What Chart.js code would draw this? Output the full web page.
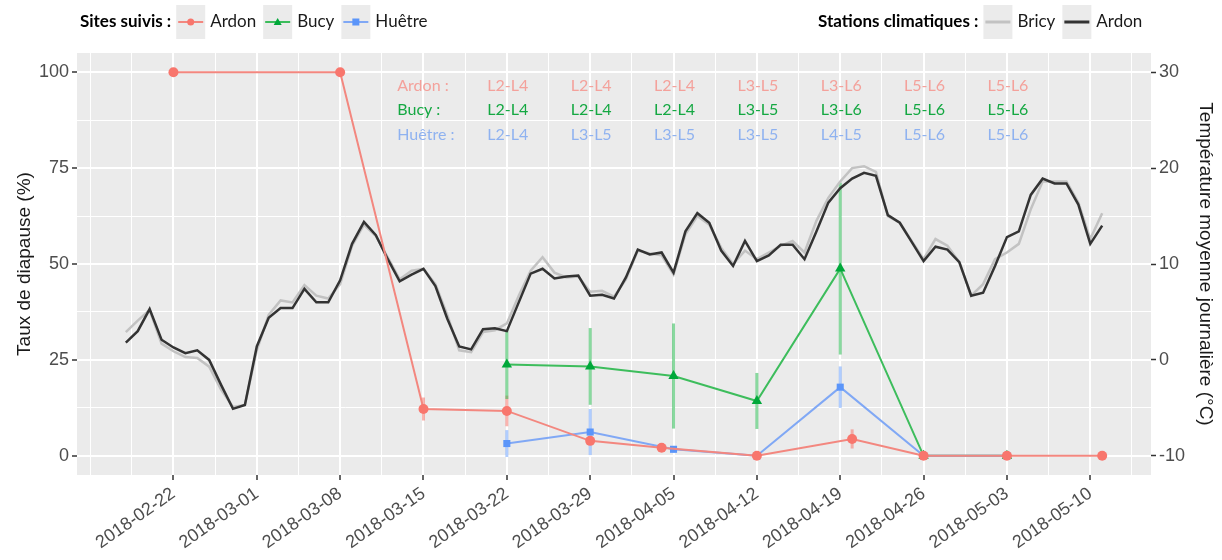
<!DOCTYPE html>
<html><head><meta charset="utf-8">
<script src="https://cdn.jsdelivr.net/npm/chart.js@4.4.1/dist/chart.umd.min.js"></script>
<style>html,body{margin:0;padding:0;background:#fff}#wrap{width:1222px;height:560px}</style>
</head><body><div id="wrap"><canvas id="c" width="1222" height="560"></canvas></div>
<script>
// ---------- DATA ----------
const tempStartDate = '2018-02-18';
const tempArdon = [1.8,3.0,5.3,2.1,1.3,0.7,1.0,0.0,-2.6,-5.1,-4.7,1.4,4.4,5.4,5.4,7.4,6.0,6.0,8.3,12.1,14.4,13.0,10.5,8.2,8.9,9.5,7.7,4.3,1.4,1.1,3.2,3.3,3.0,6.0,9.0,9.5,8.5,8.7,8.8,6.7,6.8,6.4,8.6,11.5,11.0,11.2,9.1,13.4,15.3,14.3,11.4,9.8,12.4,10.3,10.9,12.0,12.0,10.5,13.4,16.4,17.9,18.9,19.5,19.2,15.1,14.3,12.3,10.3,11.8,11.5,10.2,6.7,7.0,9.8,12.8,13.4,17.2,18.9,18.4,18.4,16.2,12.1,14.0];
const tempBricy = [2.9,4.1,5.2,1.7,0.9,0.3,0.2,-0.7,-3.1,-4.9,-4.7,1.0,4.7,6.2,6.0,7.8,6.7,6.4,7.9,11.9,14.1,12.9,10.7,8.4,9.3,9.5,7.9,4.7,1.0,0.8,2.9,3.1,3.8,6.7,9.3,10.7,9.1,8.6,8.7,7.1,7.2,6.6,8.4,11.4,11.1,10.9,8.9,13.1,15.0,14.1,11.7,10.0,11.4,10.5,11.2,11.9,12.4,11.2,14.5,16.9,18.6,20.0,20.2,19.6,15.0,14.3,12.4,10.5,12.6,11.9,10.2,6.7,7.9,10.5,11.2,12.1,15.7,18.6,18.6,18.6,16.4,12.6,15.3];

const ardonDates = ['2018-02-22','2018-03-08','2018-03-15','2018-03-22','2018-03-29','2018-04-04','2018-04-12','2018-04-20','2018-04-26','2018-05-03','2018-05-11'];
const ardonRate  = [100,100,12.2,11.7,3.9,2.1,0,4.4,0,0,0];
const ardonErr   = [0,0,3,4,0,0,0,2.5,0,0,0];

const bucyDates = ['2018-03-22','2018-03-29','2018-04-05','2018-04-12','2018-04-19','2018-04-26','2018-05-03'];
const bucyRate  = [23.8,23.3,20.8,14.3,48.8,0,0];
const bucyErr   = [9,10,13.7,7.3,22.4,0,0];

const huetreDates = ['2018-03-22','2018-03-29','2018-04-05','2018-04-12','2018-04-19','2018-04-26','2018-05-03'];
const huetreRate  = [3.2,6.2,1.7,0,17.9,0,0];
const huetreErr   = [3.5,6,0.8,0,5.4,0,0];

const xTickDates = ['2018-02-22','2018-03-01','2018-03-08','2018-03-15','2018-03-22','2018-03-29','2018-04-05','2018-04-12','2018-04-19','2018-04-26','2018-05-03','2018-05-10'];
const yLeftTicks  = [0,25,50,75,100];
const yRightTicks = [-10,0,10,20,30];

const stageDates   = ['2018-03-22','2018-03-29','2018-04-05','2018-04-12','2018-04-19','2018-04-26','2018-05-03'];
const stagesArdon  = ['L2-L4','L2-L4','L2-L4','L3-L5','L3-L6','L5-L6','L5-L6'];
const stagesBucy   = ['L2-L4','L2-L4','L2-L4','L3-L5','L3-L6','L5-L6','L5-L6'];
const stagesHuetre = ['L2-L4','L3-L5','L3-L5','L3-L5','L4-L5','L5-L6','L5-L6'];
const stageRowNames = ['Ardon :','Bucy :','Huêtre :'];

// ---------- HELPERS ----------
const ORIGIN = Date.parse(xTickDates[0] + 'T00:00:00Z');
const dayOf = s => (Date.parse(s + 'T00:00:00Z') - ORIGIN) / 86400000;
const tempStart = dayOf(tempStartDate);
const pts = (dates, vals) => dates.map((d, i) => ({x: dayOf(d), y: vals[i]}));
const tempPts = vals => vals.map((v, i) => ({x: tempStart + i, y: v}));

const xMajor = xTickDates.map(dayOf);
const step = xMajor[1] - xMajor[0];
const xAll = [];
for (let v = xMajor[0] - step; v <= xMajor[xMajor.length - 1] + step; v += step / 2) xAll.push(v);
const xDataMin = tempStart, xDataMax = tempStart + tempArdon.length - 1;
const xPad = (xDataMax - xDataMin) * 0.05;
const xMin = xDataMin - xPad, xMax = xDataMax + xPad;
const xTicks = xAll.filter(v => v >= xMin && v <= xMax);
const isXMajor = v => xMajor.some(m => Math.abs(m - v) < 1e-6);

const yAll = [];
for (let v = 0; v <= 100; v += 12.5) yAll.push(v);
const isYMajor = v => yLeftTicks.includes(v);

const C = {
  ardon: '#f8766d', ardonLine: '#f3877f', ardonErr: 'rgba(248,118,109,0.55)',
  bucy: '#00a83a', bucyLine: '#3dbd5c', bucyErr: 'rgba(40,185,80,0.55)',
  huetre: '#5b95f9', huetreLine: '#80a8f5', huetreErr: 'rgba(97,156,255,0.5)',
  tArdon: '#333333', tBricy: '#c2c2c2'
};

const FONT = 'Liberation Sans, Arial, sans-serif';
const LFONT = 'Lato, sans-serif';

// ---------- PLUGINS ----------
const panelBg = {
  id: 'panelBg',
  beforeDraw(chart) {
    const {ctx, chartArea: a} = chart;
    ctx.save(); ctx.fillStyle = '#ebebeb';
    ctx.fillRect(a.left, a.top, a.right - a.left, a.bottom - a.top);
    ctx.restore();
  }
};

const errorBars = {
  id: 'errorBars',
  beforeDatasetsDraw(chart) {
    const {ctx, scales: {x, y}} = chart;
    const series = [
      {dates: ardonDates, rate: ardonRate, err: ardonErr, col: C.ardonErr},
      {dates: bucyDates, rate: bucyRate, err: bucyErr, col: C.bucyErr},
      {dates: huetreDates, rate: huetreRate, err: huetreErr, col: C.huetreErr}
    ];
    ctx.save();
    ctx.lineWidth = 3;
    series.forEach(s => s.dates.forEach((d, i) => {
      if (!s.err[i]) return;
      const px = x.getPixelForValue(dayOf(d));
      ctx.strokeStyle = s.col;
      ctx.beginPath();
      ctx.moveTo(px, y.getPixelForValue(s.rate[i] - s.err[i]));
      ctx.lineTo(px, y.getPixelForValue(s.rate[i] + s.err[i]));
      ctx.stroke();
    }));
    ctx.restore();
  }
};

const stageLabels = {
  id: 'stageLabels',
  afterDraw(chart) {
    const {ctx, scales: {x, y}} = chart;
    const rows = [
      {name: stageRowNames[0], codes: stagesArdon, col: '#f4a19b', yv: 96.5},
      {name: stageRowNames[1], codes: stagesBucy, col: '#14a842', yv: 90.1},
      {name: stageRowNames[2], codes: stagesHuetre, col: '#8fb2f0', yv: 83.6}
    ];
    ctx.save();
    ctx.font = '16px ' + LFONT;
    ctx.textBaseline = 'middle';
    rows.forEach(r => {
      const py = y.getPixelForValue(r.yv);
      ctx.fillStyle = r.col;
      ctx.textAlign = 'left';
      ctx.fillText(r.name, x.getPixelForValue(18.8), py);
      ctx.textAlign = 'center';
      r.codes.forEach((c, i) => ctx.fillText(c, x.getPixelForValue(dayOf(stageDates[i])) + 1, py));
    });
    ctx.restore();
  }
};

function drawMarker(ctx, style, cx, cy, col) {
  ctx.fillStyle = col;
  ctx.beginPath();
  if (style === 'circle') ctx.arc(cx, cy, 3.5, 0, Math.PI * 2);
  else if (style === 'triangle') { ctx.moveTo(cx, cy - 4); ctx.lineTo(cx + 4, cy + 3); ctx.lineTo(cx - 4, cy + 3); ctx.closePath(); }
  else ctx.rect(cx - 3.5, cy - 3.5, 7, 7);
  ctx.fill();
}

const topLegend = {
  id: 'topLegend',
  afterDraw(chart) {
    const ctx = chart.ctx;
    const cy = 22;
    ctx.save();
    ctx.textBaseline = 'middle';
    const group = (startX, title, items) => {
      let xx = startX;
      ctx.font = 'bold 17px ' + LFONT; ctx.fillStyle = '#000'; ctx.textAlign = 'left';
      ctx.fillText(title, xx, cy);
      xx += ctx.measureText(title).width + 5;
      items.forEach(it => {
        ctx.fillStyle = '#ebebeb';
        ctx.fillRect(xx, 5, 29, 34);
        ctx.strokeStyle = it.line; ctx.lineWidth = it.lw;
        ctx.beginPath(); ctx.moveTo(xx + 2, cy); ctx.lineTo(xx + 27, cy); ctx.stroke();
        if (it.marker) drawMarker(ctx, it.marker, xx + 14.5, cy, it.mcol);
        xx += 34;
        ctx.font = '17px ' + LFONT; ctx.fillStyle = '#1a1a1a';
        ctx.fillText(it.label, xx, cy);
        xx += ctx.measureText(it.label).width + 7;
      });
    };
    group(80, 'Sites suivis :', [
      {label: 'Ardon', line: C.ardonLine, lw: 2, marker: 'circle', mcol: C.ardon},
      {label: 'Bucy', line: C.bucyLine, lw: 2, marker: 'triangle', mcol: C.bucy},
      {label: 'Huêtre', line: C.huetreLine, lw: 2, marker: 'rect', mcol: C.huetre}
    ]);
    group(818, 'Stations climatiques :', [
      {label: 'Bricy', line: C.tBricy, lw: 3},
      {label: 'Ardon', line: C.tArdon, lw: 3}
    ]);
    ctx.restore();
  }
};

// ---------- CHART ----------
const tickFont = {family: FONT, size: 18};
const titleFont = {family: FONT, size: 19};

new Chart(document.getElementById('c'), {
  type: 'line',
  data: {
    datasets: [
      {label: 'Ardon', data: pts(ardonDates, ardonRate), yAxisID: 'y', borderColor: C.ardonLine, borderWidth: 2,
       pointStyle: 'circle', pointRadius: 5, pointBackgroundColor: C.ardon, pointBorderColor: C.ardon, pointBorderWidth: 0, order: 3},
      {label: 'Huêtre', data: pts(huetreDates, huetreRate), yAxisID: 'y', borderColor: C.huetreLine, borderWidth: 2,
       pointStyle: 'rect', pointRadius: 5, pointBackgroundColor: C.huetre, pointBorderColor: C.huetre, pointBorderWidth: 0, order: 4},
      {label: 'Bucy', data: pts(bucyDates, bucyRate), yAxisID: 'y', borderColor: C.bucyLine, borderWidth: 2,
       pointStyle: 'triangle', pointRadius: 6, pointBackgroundColor: C.bucy, pointBorderColor: C.bucy, pointBorderWidth: 0, order: 5},
      {label: 'Ardon (station)', data: tempPts(tempArdon), yAxisID: 'y2', borderColor: C.tArdon, borderWidth: 2.5,
       pointRadius: 0, order: 10},
      {label: 'Bricy', data: tempPts(tempBricy), yAxisID: 'y2', borderColor: C.tBricy, borderWidth: 2.5,
       pointRadius: 0, order: 11}
    ]
  },
  options: {
    animation: false, responsive: false, maintainAspectRatio: false,
    layout: {padding: {top: 53, left: 0, right: 0, bottom: 0}},
    plugins: {legend: {display: false}, tooltip: {enabled: false}},
    scales: {
      x: {
        type: 'linear', min: xMin, max: xMax,
        afterBuildTicks: s => { s.ticks = xTicks.map(v => ({value: v})); },
        afterFit: s => { s.height = 85; },
        ticks: {
          autoSkip: false, minRotation: 35, maxRotation: 35, padding: 3,
          font: tickFont, color: '#4d4d4d',
          callback: v => { const i = xMajor.findIndex(m => Math.abs(m - v) < 1e-6); return i >= 0 ? xTickDates[i] : ''; }
        },
        grid: {
          color: '#ffffff', drawTicks: true, tickLength: 5,
          lineWidth: c => isXMajor(c.tick.value) ? 2 : 1,
          tickColor: c => isXMajor(c.tick.value) ? '#333333' : 'rgba(0,0,0,0)',
          tickWidth: c => isXMajor(c.tick.value) ? 1.5 : 0
        },
        border: {display: false}
      },
      y: {
        type: 'linear', position: 'left', min: -5, max: 105,
        afterBuildTicks: s => { s.ticks = yAll.map(v => ({value: v})); },
        afterFit: s => { s.width = 77; },
        ticks: {font: tickFont, color: '#4d4d4d', padding: 3,
          callback: v => isYMajor(v) ? String(v) : ''},
        grid: {
          color: '#ffffff', tickLength: 5,
          lineWidth: c => isYMajor(c.tick.value) ? 2 : 1,
          tickColor: c => isYMajor(c.tick.value) ? '#333333' : 'rgba(0,0,0,0)',
          tickWidth: c => isYMajor(c.tick.value) ? 1.5 : 0
        },
        border: {display: false},
        title: {display: true, text: 'Taux de diapause (%)', font: titleFont, color: '#1a1a1a', padding: {top: 13, bottom: 0}}
      },
      y2: {
        type: 'linear', position: 'right', min: -12, max: 32,
        afterBuildTicks: s => { s.ticks = yRightTicks.map(v => ({value: v})); },
        afterFit: s => { s.width = 71; },
        ticks: {font: tickFont, color: '#4d4d4d', padding: 3, callback: v => String(v)},
        grid: {drawOnChartArea: false, tickLength: 5, tickColor: '#333333', tickWidth: 1.5},
        border: {display: false},
        title: {display: true, text: 'Température moyenne journalière (°C)', font: titleFont, color: '#1a1a1a', padding: {top: 5, bottom: 0}}
      }
    }
  },
  plugins: [panelBg, errorBars, stageLabels, topLegend]
});
</script>
</body></html>
